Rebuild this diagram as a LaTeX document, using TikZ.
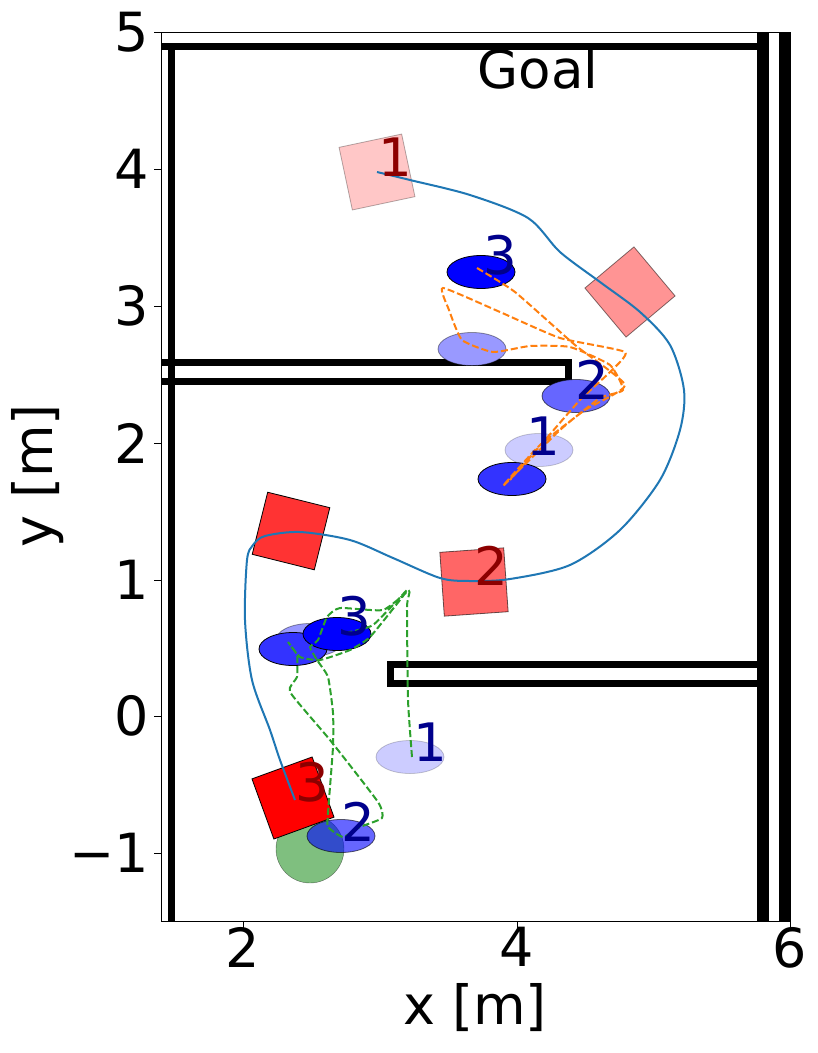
\documentclass[tikz,border=0pt]{standalone}
\usepackage{fontspec}
\setmainfont{DejaVu Sans}
\usetikzlibrary{shapes.geometric}
\begin{document}
\begin{tikzpicture}[x=1pt,y=-1pt,
  tk/.style={font=\fontsize{54}{56}\selectfont},
  lab/.style={font=\fontsize{53}{55}\selectfont,inner sep=0pt},
  rl/.style={lab,text=red!55!black},
  bl/.style={lab,text=blue!55!black},
  box/.style={draw=black,line width=0.8pt,minimum size=64pt,inner sep=0pt},
  ell/.style={draw=black,line width=0.8pt,ellipse,minimum width=68pt,minimum height=33pt,inner sep=0pt},
  wall/.style={line width=7pt},
  bpath/.style={color={rgb,255:red,31;green,119;blue,180},line width=2pt},
  opath/.style={color={rgb,255:red,255;green,127;blue,14},line width=2pt,dash pattern=on 7pt off 3pt},
  gpath/.style={color={rgb,255:red,44;green,160;blue,44},line width=2pt,dash pattern=on 7pt off 3pt}]
\useasboundingbox (0,0) rectangle (818,1053);
\fill[white] (0,0) rectangle (818,1053);
% walls
\draw[wall] (161,46.5) -- (760,46.5);
\draw[wall] (171.5,46) -- (171.5,921);
\fill (757,32) rectangle (769,921);
\fill (779,32) rectangle (790,921);
\draw[wall] (161,362) -- (568,362) -- (568,381) -- (161,381);
\draw[wall] (757,664) -- (390,664) -- (390,683) -- (757,683);
% goal circle
\node[circle,draw=black,draw opacity=0.5,fill={rgb,255:red,0;green,128;blue,0},fill opacity=0.5,minimum size=68pt,inner sep=0pt] (g) at (310,849) {};
% obstacles
\node[box,fill=red!22,draw opacity=0.3,rotate=12] (s1) at (377,172) {};
\node[box,fill=red!42,draw opacity=0.5,rotate=40] (s2) at (630,292) {};
\node[box,fill=red!80,rotate=-14] (s3) at (291,531) {};
\node[box,fill=red!60,draw opacity=0.6,rotate=4] (s4) at (474,582) {};
\node[box,fill=red,rotate=20] (s5) at (293,798) {};
% robot ellipses
\node[ell,fill=blue!40,draw opacity=0.4] (e1) at (472,349) {};
\node[ell,fill=blue!20,draw opacity=0.2] (e2) at (539,450) {};
\node[ell,fill=blue!60,draw opacity=0.6] (e3) at (576,396) {};
\node[ell,fill=blue!80] (e4) at (512,479) {};
\node[ell,fill=blue] (e5) at (481,272) {};
\node[ell,fill=blue!40,draw opacity=0.4] (e6) at (310,640) {};
\node[ell,fill=blue!80] (e7) at (293,649) {};
\node[ell,fill=blue] (e8) at (337,634) {};
\node[ell,fill=blue!20,draw opacity=0.2] (e9) at (410,757) {};
\node[ell,fill=blue,fill opacity=0.6,draw opacity=0.6] (e10) at (341,836) {};
% paths
\draw[bpath] plot[smooth,tension=0.5] coordinates {(377,172) (410,180) (470,195) (528,218) (560,252) (600,282) (640,312) (670,345) (684,390) (680,430) (660,480) (620,530) (570,565) (510,579) (470,581) (440,578) (393,558) (350,540) (300,532) (265,536) (253,545) (247,560) (245,620) (252,680) (270,730) (280,760) (295,800)};
\draw[opath] plot[smooth,tension=0.3] coordinates {(477,268) (515,292) (575,345) (625,385) (585,410) (540,445) (503,486) (560,430) (600,398) (623,390) (610,365) (570,347) (530,346) (493,352) (462,340) (449,310) (443,288) (500,312) (560,338) (625,352) (610,372) (580,400) (545,440) (510,480)};
\draw[gpath] plot[smooth,tension=0.3] coordinates {(412,757) (408,700) (407,607) (409,591) (383,610) (340,608) (327,617) (318,640) (310,647) (317,660) (328,677) (333,713) (333,747) (328,813) (328,827) (343,837) (360,827) (382,818) (378,802) (330,740) (290,692) (297,677) (297,655) (288,642) (300,657) (320,660) (350,650) (370,637) (400,600) (407,590) (373,625) (345,633)};
% labels
\node[rl] (l1) at (395,157) {1};
\node[rl] (l2) at (491,566) {2};
\node[rl] (l3) at (312,782) {3};
\node[bl] (m3) at (500,255) {3};
\node[bl] (m2) at (592,380) {2};
\node[bl] (m1) at (543,436) {1};
\node[bl] (n3) at (354,616) {3};
\node[bl] (n1) at (430,742) {1};
\node[bl] (n2) at (358,822) {2};
\node[lab] (goal) at (538,69) {Goal};
% axes
\draw[line width=0.8pt] (161,32) rectangle (790,921);
\foreach \x/\t in {243/2,517/4,790/6}{\draw[line width=0.8pt] (\x,921) -- (\x,928); \node[tk,anchor=north] at (\x,924) {\t};}
\foreach \y/\t in {32/5,169/4,306/3,443/2,580/1,716/0,853/−1}{\draw[line width=0.8pt] (161,\y) -- (154,\y); \node[tk,anchor=east,inner sep=3pt] at (152,\y) {\t};}
\node[tk,anchor=north] (xl) at (475,980) {x [m]};
\node[tk,rotate=90] (yl) at (38,476) {y [m]};
\end{tikzpicture}
\end{document}
